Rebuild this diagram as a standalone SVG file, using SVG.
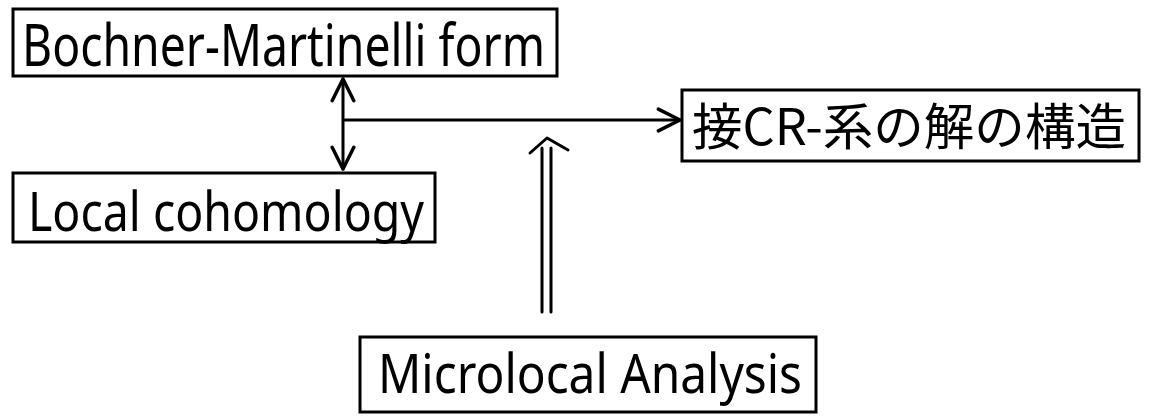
<svg xmlns="http://www.w3.org/2000/svg" width="1152" height="419" viewBox="0 0 1152 419">
  <defs>
    <style>
      .box { fill: none; stroke: #000; stroke-width: 3; }
      .lbl { font-family: "Noto Sans", "Liberation Sans", sans-serif; fill: #000; font-weight: 400; }
      .cjk { font-family: "Noto Sans CJK JP", "Noto Sans CJK SC", sans-serif; fill: #000; }
      .edge { fill: none; stroke: #000; stroke-width: 3; stroke-linecap: round; stroke-linejoin: round; }
    </style>
    <marker id="open" viewBox="0 0 12 12" refX="11" refY="6" markerWidth="26" markerHeight="26" markerUnits="userSpaceOnUse" orient="auto-start-reverse">
      <path d="M1,1 L11,6 L1,11" fill="none" stroke="#000" stroke-width="1.6" stroke-linecap="round" stroke-linejoin="round"/>
    </marker>
  </defs>
  <rect width="1152" height="419" fill="#fff"/>

  <g id="node-bochner">
    <rect class="box" x="13" y="9" width="544" height="67"/>
    <text class="lbl" x="22" y="66" font-size="58" textLength="523" lengthAdjust="spacingAndGlyphs">Bochner-Martinelli form</text>
  </g>

  <g id="node-local">
    <rect class="box" x="13" y="173" width="422" height="69"/>
    <text class="lbl" x="28" y="231" font-size="54" textLength="396" lengthAdjust="spacingAndGlyphs">Local cohomology</text>
  </g>

  <g id="node-cr">
    <rect class="box" x="682" y="90" width="457" height="71"/>
    <text class="cjk" x="692" y="145" font-size="50" textLength="434" lengthAdjust="spacingAndGlyphs">接CR-系の解の構造</text>
  </g>

  <g id="node-micro">
    <rect class="box" x="360" y="337" width="456" height="75"/>
    <text class="lbl" x="378" y="393" font-size="54" textLength="424" lengthAdjust="spacingAndGlyphs">Microlocal Analysis</text>
  </g>

  <g id="connectors">
    <line class="edge" x1="343" y1="79" x2="343" y2="169" marker-start="url(#open)" marker-end="url(#open)"/>
    <line class="edge" x1="345" y1="120" x2="680" y2="120" marker-end="url(#open)"/>
    <line class="edge" x1="542" y1="148" x2="542" y2="312"/>
    <line class="edge" x1="551" y1="148" x2="551" y2="312"/>
    <path class="edge" d="M530,153 L547,138 L568,150"/>
  </g>
</svg>
